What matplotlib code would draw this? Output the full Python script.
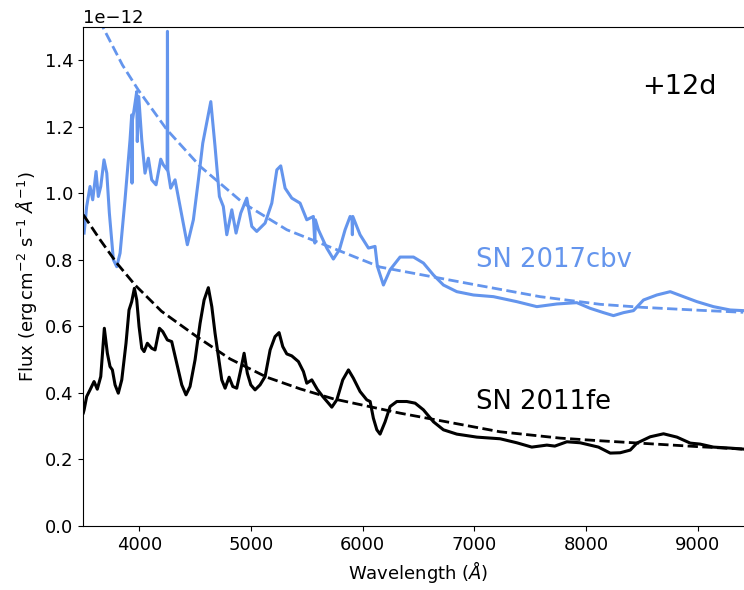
import numpy as np
from matplotlib import pyplot as plt

# SN 2017cbv spectrum (flux in 1e-12 erg/cm2/s/A)
wave_cbv = [3507, 3530, 3560, 3584, 3614, 3634, 3656, 3685, 3710, 3733, 3769, 3799,
            3829, 3873, 3918, 3933, 3936, 3940, 3954, 3978, 3983, 3996, 4023, 4052,
            4082, 4112, 4151, 4193, 4216, 4250, 4253, 4256, 4282, 4321, 4366, 4431,
            4485, 4530, 4569, 4641, 4679, 4718, 4753, 4784, 4829, 4867, 4909, 4963,
            5008, 5052, 5127, 5187, 5232, 5267, 5306, 5366, 5440, 5500, 5559, 5572,
            5577, 5604, 5679, 5738, 5792, 5843, 5888, 5905, 5908, 5912, 5977, 6052,
            6111, 6132, 6186, 6246, 6335, 6455, 6544, 6634, 6723, 6843, 6992, 7171,
            7380, 7559, 7738, 7917, 8036, 8156, 8245, 8335, 8424, 8514, 8633, 8753,
            8872, 8992, 9140, 9290, 9409]
flux_cbv = [0.880, 0.960, 1.020, 0.980, 1.065, 0.990, 1.020, 1.100, 1.060, 0.940, 0.800, 0.779,
            0.820, 0.980, 1.160, 1.235, 1.030, 1.220, 1.250, 1.305, 1.155, 1.290, 1.160, 1.060,
            1.105, 1.040, 1.025, 1.102, 1.085, 1.070, 1.486, 1.070, 1.015, 1.040, 0.960, 0.845,
            0.920, 1.040, 1.150, 1.275, 1.140, 0.990, 0.960, 0.875, 0.950, 0.880, 0.940, 0.985,
            0.900, 0.885, 0.910, 0.970, 1.070, 1.082, 1.015, 0.985, 0.970, 0.920, 0.930, 0.850,
            0.920, 0.890, 0.835, 0.802, 0.830, 0.890, 0.930, 0.925, 0.875, 0.930, 0.875, 0.835,
            0.840, 0.780, 0.724, 0.770, 0.808, 0.808, 0.790, 0.754, 0.724, 0.704, 0.694, 0.689,
            0.674, 0.659, 0.667, 0.671, 0.654, 0.641, 0.632, 0.641, 0.647, 0.679, 0.694, 0.704,
            0.689, 0.674, 0.659, 0.649, 0.647]

# SN 2011fe spectrum
wave_fe = [3500, 3507, 3530, 3560, 3596, 3625, 3656, 3688, 3715, 3739, 3760, 3784,
           3813, 3844, 3882, 3909, 3933, 3957, 3978, 3999, 4023, 4044, 4073, 4112,
           4142, 4181, 4211, 4252, 4291, 4336, 4381, 4419, 4455, 4500, 4545, 4581,
           4619, 4650, 4679, 4709, 4739, 4769, 4805, 4838, 4873, 4909, 4939, 4968,
           4999, 5037, 5082, 5127, 5172, 5216, 5252, 5285, 5321, 5366, 5425, 5470,
           5500, 5545, 5595, 5643, 5694, 5724, 5769, 5822, 5873, 5917, 5977, 6037,
           6067, 6096, 6127, 6156, 6201, 6246, 6306, 6395, 6470, 6544, 6634, 6723,
           6843, 7022, 7231, 7380, 7514, 7649, 7720, 7828, 7947, 8111, 8216, 8305,
           8395, 8455, 8574, 8693, 8813, 8932, 9021, 9140, 9290, 9409]
flux_fe = [0.340, 0.349, 0.389, 0.409, 0.434, 0.411, 0.449, 0.594, 0.519, 0.479, 0.469, 0.424,
           0.399, 0.439, 0.549, 0.649, 0.674, 0.714, 0.679, 0.599, 0.534, 0.524, 0.549, 0.534,
           0.529, 0.594, 0.584, 0.559, 0.554, 0.489, 0.424, 0.394, 0.419, 0.499, 0.609, 0.679,
           0.716, 0.659, 0.579, 0.509, 0.439, 0.414, 0.447, 0.419, 0.414, 0.469, 0.519, 0.459,
           0.424, 0.409, 0.424, 0.449, 0.529, 0.569, 0.581, 0.539, 0.517, 0.511, 0.494, 0.464,
           0.429, 0.439, 0.410, 0.389, 0.369, 0.357, 0.379, 0.439, 0.469, 0.444, 0.404, 0.379,
           0.374, 0.324, 0.289, 0.276, 0.313, 0.359, 0.374, 0.374, 0.369, 0.349, 0.313, 0.289,
           0.276, 0.267, 0.262, 0.250, 0.237, 0.243, 0.240, 0.253, 0.250, 0.237, 0.219, 0.220,
           0.228, 0.249, 0.268, 0.277, 0.267, 0.249, 0.246, 0.237, 0.234, 0.231]

# continuum fits (dashed)
wave_bb_cbv = [3640, 3679, 3750, 3850, 3992, 4247, 4547, 4932, 5321, 5769, 6156,
               7051, 7588, 8126, 8500, 9021, 9406]
flux_bb_cbv = [1.520, 1.496, 1.450, 1.385, 1.310, 1.191, 1.080, 0.970, 0.890, 0.830, 0.778,
               0.722, 0.689, 0.666, 0.657, 0.648, 0.642]
wave_bb_fe = [3500, 3650, 3799, 3963, 4200, 4515, 4813, 5142, 5440, 5738, 6335,
              7230, 7767, 8126, 9021, 9406]
flux_bb_fe = [0.935, 0.860, 0.790, 0.724, 0.645, 0.569, 0.502, 0.447, 0.412, 0.382, 0.339,
              0.283, 0.264, 0.256, 0.238, 0.231]

blue = 'cornflowerblue'


def main():
    fig = plt.figure(figsize=(7.44, 5.9), dpi=100)
    ax = fig.add_axes([0.112, 0.1085, 0.901, 0.8462])

    ax.plot(np.array(wave_cbv), np.array(flux_cbv) * 1e-12, color=blue, lw=2.2)
    ax.plot(np.array(wave_bb_cbv), np.array(flux_bb_cbv) * 1e-12, color=blue, lw=2, ls='--')
    ax.plot(np.array(wave_fe), np.array(flux_fe) * 1e-12, color='k', lw=2.2)
    ax.plot(np.array(wave_bb_fe), np.array(flux_bb_fe) * 1e-12, color='k', lw=2, ls='--')

    ax.text(7015, 0.80e-12, 'SN 2017cbv', color=blue, fontsize=18.6, va='center')
    ax.text(7015, 0.373e-12, 'SN 2011fe', color='k', fontsize=18.6, va='center')
    ax.text(8500, 1.32e-12, '+12d', color='k', fontsize=19.5, va='center')

    ax.set_xlim(3500, 9500)
    ax.set_ylim(0, 1.5e-12)
    ax.tick_params(labelsize=13)
    ax.yaxis.get_offset_text().set_fontsize(13)
    ax.set_xlabel(r'Wavelength ($\AA$)', fontsize=13)
    ax.set_ylabel(r'Flux (erg$\,$cm$^{-2}$ s$^{-1}$ $\AA^{-1}$)', fontsize=13)

    fig.savefig('out.png', dpi=100)


if __name__ == '__main__':
    main()
